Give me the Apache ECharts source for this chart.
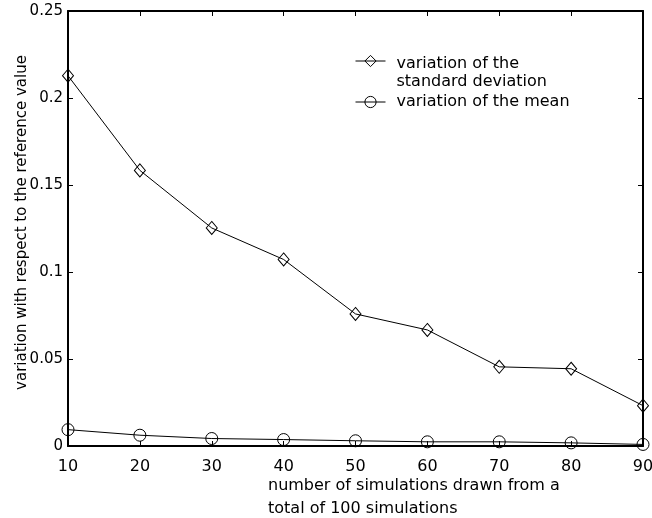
<!DOCTYPE html>
<html>
<head>
<meta charset="utf-8">
<title>Variation vs number of simulations</title>
<script src="https://cdn.jsdelivr.net/npm/echarts@6/dist/echarts.min.js"></script>
<style>
  html, body { margin: 0; padding: 0; background: #fff; }
  #chart { width: 652px; height: 518px; }
</style>
</head>
<body>
<div id="chart"></div>
<script>
// Number of simulations drawn (out of 100)
const simulations = [10, 20, 30, 40, 50, 60, 70, 80, 90];
// Relative variation of the standard deviation
const stdVariation = [0.2128, 0.1584, 0.1253, 0.1072, 0.0759, 0.0667, 0.0455, 0.0444, 0.0232];
// Relative variation of the mean
const meanVariation = [0.0094, 0.0062, 0.0043, 0.0037, 0.0030, 0.0024, 0.0024, 0.0018, 0.0009];
// Axis ticks
const xTicks = [10, 20, 30, 40, 50, 60, 70, 80, 90];
const yTicks = [0, 0.05, 0.1, 0.15, 0.2, 0.25];

const seriesNames = ['variation of the standard deviation', 'variation of the mean'];
const xTitle = 'number of simulations drawn from a\ntotal of 100 simulations';
const yTitle = 'variation with respect to the reference value';

const FONT = 'DejaVu Sans';
const xRange = { min: xTicks[0], max: xTicks[xTicks.length - 1], interval: xTicks[1] - xTicks[0] };
const yRange = { min: yTicks[0], max: yTicks[yTicks.length - 1], interval: +(yTicks[1] - yTicks[0]).toFixed(4) };

const frameLine = { show: true, onZero: false, lineStyle: { color: '#000', width: 2 } };
const innerTick = { show: true, inside: true, length: 5, lineStyle: { color: '#000', width: 1 } };
const hollowMarker = { color: 'rgba(255,255,255,0)', borderColor: '#000', borderWidth: 1 };

const legendBase = {
  orient: 'vertical',
  left: 355,
  padding: 0,
  itemWidth: 30,
  itemHeight: 14,
  itemStyle: hollowMarker,
  lineStyle: { color: '#000', width: 1 },
  textStyle: {
    fontFamily: FONT, fontSize: 16, color: '#000', lineHeight: 18, padding: [0, 0, 0, 6],
    rich: {
      // spacer line that lowers the two-line label so its first line sits beside the icon
      s: { fontSize: 16, lineHeight: 24 },
      t: { fontFamily: FONT, fontSize: 16, color: '#000', lineHeight: 18 }
    }
  }
};

const chart = echarts.init(document.getElementById('chart'), null, { renderer: 'canvas' });

chart.setOption({
  animation: false,
  backgroundColor: '#fff',
  textStyle: { fontFamily: FONT, color: '#000' },
  grid: { left: 68, right: 9, top: 11, bottom: 72, containLabel: false, outerBoundsMode: 'none' },
  title: {
    text: xTitle,
    left: 268,
    top: 474,
    padding: 0,
    textStyle: { fontFamily: FONT, fontSize: 16, fontWeight: 'normal', color: '#000', lineHeight: 23 }
  },
  legend: [
    Object.assign({}, legendBase, {
      data: [seriesNames[0]],
      top: 31,
      formatter: function () { return '{s| }\n{t|variation of the}\n{t|standard deviation}'; }
    }),
    Object.assign({}, legendBase, {
      data: [seriesNames[1]],
      top: 93
    })
  ],
  xAxis: [
    {
      type: 'value',
      position: 'bottom',
      min: xRange.min, max: xRange.max, interval: xRange.interval,
      axisLine: frameLine,
      axisTick: innerTick,
      splitLine: { show: false },
      axisLabel: { show: true, margin: 13, fontFamily: FONT, fontSize: 16, color: '#000', hideOverlap: false }
    },
    {
      type: 'value',
      position: 'top',
      min: xRange.min, max: xRange.max, interval: xRange.interval,
      axisLine: frameLine,
      axisTick: innerTick,
      splitLine: { show: false },
      axisLabel: { show: false }
    }
  ],
  yAxis: [
    {
      type: 'value',
      position: 'left',
      min: yRange.min, max: yRange.max, interval: yRange.interval,
      axisLine: frameLine,
      axisTick: innerTick,
      splitLine: { show: false },
      axisLabel: { show: true, margin: 5, fontFamily: FONT, fontSize: 15, color: '#000', padding: [4, 0, 0, 0] },
      name: yTitle,
      nameLocation: 'middle',
      nameGap: 38,
      nameMoveOverlap: false,
      nameTextStyle: { fontFamily: FONT, fontSize: 15, color: '#000', padding: [0, 0, 0, 12] }
    },
    {
      type: 'value',
      position: 'right',
      min: yRange.min, max: yRange.max, interval: yRange.interval,
      axisLine: frameLine,
      axisTick: innerTick,
      splitLine: { show: false },
      axisLabel: { show: false }
    }
  ],
  series: [
    {
      name: seriesNames[0],
      type: 'line',
      xAxisIndex: 0,
      yAxisIndex: 0,
      data: simulations.map((x, i) => [x, stdVariation[i]]),
      symbol: 'diamond',
      symbolSize: [11, 13],
      showAllSymbol: true,
      lineStyle: { color: '#000', width: 1 },
      itemStyle: hollowMarker,
      emphasis: { disabled: true },
      clip: false
    },
    {
      name: seriesNames[1],
      type: 'line',
      xAxisIndex: 0,
      yAxisIndex: 0,
      data: simulations.map((x, i) => [x, meanVariation[i]]),
      symbol: 'circle',
      symbolSize: 12,
      showAllSymbol: true,
      lineStyle: { color: '#000', width: 1 },
      itemStyle: hollowMarker,
      emphasis: { disabled: true },
      clip: false
    }
  ]
});
</script>
</body>
</html>
